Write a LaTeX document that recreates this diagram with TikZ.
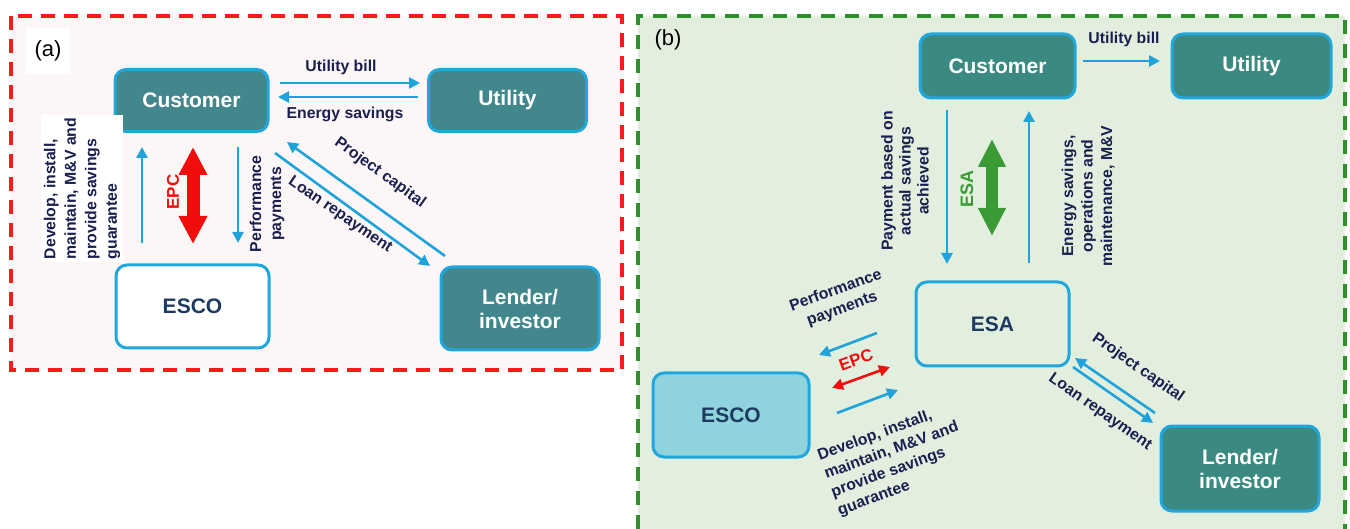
\documentclass[tikz,border=0pt]{standalone}
\usepackage{fontspec}
\setmainfont{Liberation Sans}
\usetikzlibrary{arrows.meta}
\definecolor{tealA}{HTML}{41878B}
\definecolor{tealB}{HTML}{3B8A82}
\definecolor{bordblue}{HTML}{22A7DD}
\definecolor{arrblue}{HTML}{1FA3DA}
\definecolor{navy}{HTML}{1B1F4F}
\definecolor{escotext}{HTML}{1F3A5F}
\definecolor{bgA}{HTML}{FCF7F6}
\definecolor{bgB}{HTML}{E2EFDF}
\definecolor{escofill}{HTML}{8FD3DC}
\definecolor{dashred}{HTML}{FF1A1A}
\definecolor{dashgreen}{HTML}{2F8F2F}
\definecolor{esagreen}{HTML}{3A9A35}
\definecolor{epcred}{HTML}{F20D0D}
\begin{document}
\begin{tikzpicture}[x=1pt,y=-1pt,
  box/.style={draw=bordblue, line width=3pt, rounded corners=11pt, align=center,
    inner sep=0pt, text=white, font=\fontsize{21}{24}\selectfont\bfseries},
  tealboxA/.style={box, fill=tealA},
  tealboxB/.style={box, fill=tealB},
  flow/.style={draw=arrblue, line width=2.6pt, -{Triangle[width=11pt,length=11pt]}},
  lbl/.style={text=navy, font=\fontsize{15.8}{19}\selectfont\bfseries, align=center, inner sep=1pt},
  panel/.style={font=\fontsize{22}{26}\selectfont, inner sep=0pt}
]
\useasboundingbox (0,0) rectangle (1350,529);
\fill[white] (0,0) rectangle (1350,529);
% ---------------- panel (a) ----------------
\fill[bgA] (11,16) rectangle (622,370);
\draw[dashred, line width=3.5pt, dash pattern=on 14pt off 9pt] (11,16) rectangle (622,370);
\node[panel, fill=white, minimum width=44pt, minimum height=46pt] (pa) at (48,51) {(a)};

\node[tealboxA, minimum width=153pt, minimum height=62pt] (custA) at (191.5,100.5) {Customer};
\node[tealboxA, minimum width=158pt, minimum height=62pt] (utilA) at (507.5,100.5) {Utility};
\node[box, fill=white, text=escotext, minimum width=153pt, minimum height=83pt] (escoA) at (192.5,306.5) {ESCO};
\node[tealboxA, minimum width=158pt, minimum height=83pt] (lendA) at (520,308.5) {Lender/\\investor};

\coordinate (ubA1) at (280,83);  \coordinate (ubA2) at (420,83);
\coordinate (esA1) at (418,97);  \coordinate (esA2) at (278,97);
\coordinate (upA1) at (142,243); \coordinate (upA2) at (142,147);
\coordinate (dnA1) at (238,147); \coordinate (dnA2) at (238,243);
\coordinate (epcA1) at (193,147); \coordinate (epcA2) at (193,244);
\coordinate (pcA1) at (445,256); \coordinate (pcA2) at (287,142);
\coordinate (lrA1) at (275,153); \coordinate (lrA2) at (430,266);

\draw[flow] (ubA1) -- (ubA2);
\draw[flow] (esA1) -- (esA2);
\draw[flow] (upA1) -- (upA2);
\draw[flow] (dnA1) -- (dnA2);
\draw[flow] (pcA1) -- (pcA2);
\draw[flow] (lrA1) -- (lrA2);
\draw[epcred, line width=13pt, {Triangle[width=27pt,length=28pt]}-{Triangle[width=27pt,length=28pt]}] (epcA1) -- (epcA2);

\node[lbl] (lubA) at (341,67) {Utility bill};
\node[lbl] (lesA) at (345,114) {Energy savings};
\node[lbl, rotate=90, fill=white, align=left, font=\fontsize{15.8}{20.5}\selectfont\bfseries, inner sep=3pt] (ldevA) at (82,188.5)
  {Develop, install,\\maintain, M\&V and\\provide savings\\guarantee};
\node[lbl, rotate=90, font=\fontsize{15.8}{20}\selectfont\bfseries] (lppA) at (267,204) {Performance\\payments};
\node[lbl, rotate=90, text=epcred, font=\fontsize{17}{20}\selectfont\bfseries] (lepcA) at (173,192) {EPC};
\node[lbl, rotate=-35.8] (lpcA) at (380,173) {Project capital};
\node[lbl, rotate=-34.5] (llrA) at (340,215) {Loan repayment};

% ---------------- panel (b) ----------------
\fill[bgB] (638,16) rectangle (1345,529);
\draw[dashgreen, line width=3.5pt, dash pattern=on 14pt off 10pt] (638,529) -- (638,16) -- (1345,16) -- (1345,529);
\node[panel] (pb) at (668,40) {(b)};

\node[tealboxB, minimum width=155pt, minimum height=64pt] (custB) at (997.5,66) {Customer};
\node[tealboxB, minimum width=159pt, minimum height=64pt] (utilB) at (1251.5,66) {Utility};
\node[box, text=escotext, minimum width=153pt, minimum height=84pt] (esaB) at (992.5,324) {ESA};
\node[box, fill=escofill, text=escotext, minimum width=156pt, minimum height=84pt] (escoB) at (731,415) {ESCO};
\node[tealboxB, minimum width=158pt, minimum height=85pt] (lendB) at (1240,468.5) {Lender/\\investor};

\coordinate (ubB1) at (1083,61); \coordinate (ubB2) at (1160,61);
\coordinate (dnB1) at (947,110); \coordinate (dnB2) at (947,264);
\coordinate (upB1) at (1029,263); \coordinate (upB2) at (1029,111);
\coordinate (esaB1) at (992,139); \coordinate (esaB2) at (992,236);
\coordinate (ppB1) at (877,333); \coordinate (ppB2) at (819,355);
\coordinate (epcB1) at (832,388); \coordinate (epcB2) at (890,367);
\coordinate (dvB1) at (837,413); \coordinate (dvB2) at (898,390);
\coordinate (pcB1) at (1155,413); \coordinate (pcB2) at (1075,358);
\coordinate (lrB1) at (1073,367); \coordinate (lrB2) at (1153,423);

\draw[flow] (ubB1) -- (ubB2);
\draw[flow] (dnB1) -- (dnB2);
\draw[flow] (upB1) -- (upB2);
\draw[flow] (ppB1) -- (ppB2);
\draw[flow] (dvB1) -- (dvB2);
\draw[flow] (pcB1) -- (pcB2);
\draw[flow] (lrB1) -- (lrB2);
\draw[esagreen, line width=12pt, {Triangle[width=26pt,length=28pt]}-{Triangle[width=26pt,length=28pt]}] (esaB1) -- (esaB2);
\draw[epcred, line width=2.6pt, {Triangle[width=11pt,length=11pt]}-{Triangle[width=11pt,length=11pt]}] (epcB1) -- (epcB2);

\node[lbl] (lubB) at (1124,39) {Utility bill};
\node[lbl, rotate=90, font=\fontsize{15.8}{18}\selectfont\bfseries] (lpayB) at (905,181) {Payment based on\\actual savings\\achieved};
\node[lbl, rotate=90, text=esagreen, font=\fontsize{18}{20}\selectfont\bfseries] (lesaB) at (967,189) {ESA};
\node[lbl, rotate=90, font=\fontsize{15.8}{19.5}\selectfont\bfseries] (lesB) at (1088,196) {Energy savings,\\operations and\\maintenance, M\&V};
\node[lbl, rotate=20, font=\fontsize{15.8}{19}\selectfont\bfseries] (lppB) at (839,300) {Performance\\payments};
\node[lbl, rotate=20, text=epcred, font=\fontsize{17}{20}\selectfont\bfseries] (lepcB) at (856,360) {EPC};
\node[lbl, rotate=20, align=left, font=\fontsize{15.8}{19.5}\selectfont\bfseries] (ldevB) at (895,460)
  {Develop, install,\\maintain, M\&V and\\provide savings\\guarantee};
\node[lbl, rotate=-35] (lpcB) at (1138,368) {Project capital};
\node[lbl, rotate=-35] (llrB) at (1100,412) {Loan repayment};
\end{tikzpicture}
\end{document}
